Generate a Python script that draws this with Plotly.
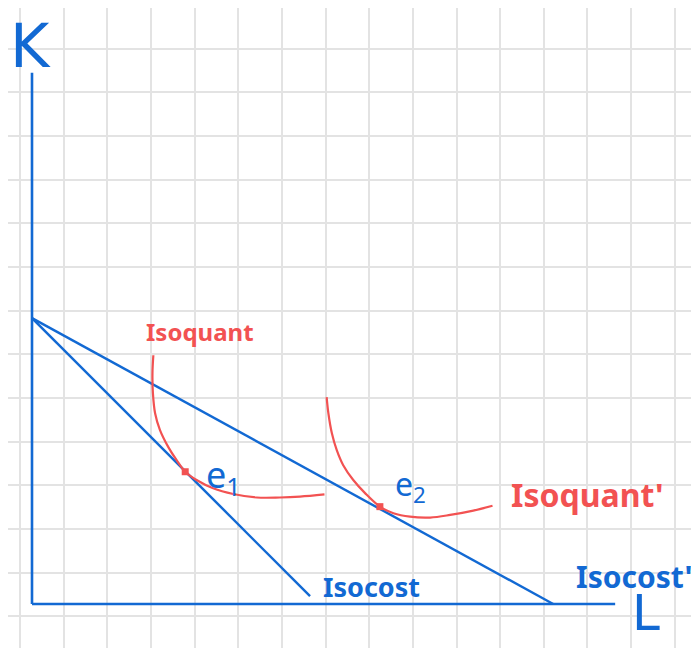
import plotly.graph_objects as go

# ---- data (grid units: 1 = one grid square, origin at the axes corner) ----
k_axis_x = [0, 0]
k_axis_y = [0, 12.17]
l_axis_x = [0, 13.36]
l_axis_y = [0, 0]

isocost_x = [0, 6.37]
isocost_y = [6.55, 0.18]
isocost2_x = [0, 11.94]
isocost2_y = [6.55, 0.0]

isoquant1_x = [2.78, 2.76, 2.77, 2.82, 2.93, 3.12, 3.31, 3.51, 3.77, 4.15, 4.61, 5.15, 5.68, 6.14, 6.70]
isoquant1_y = [5.70, 5.29, 4.83, 4.37, 3.99, 3.60, 3.30, 3.03, 2.84, 2.65, 2.52, 2.44, 2.44, 2.46, 2.51]

isoquant2_x = [6.75, 6.79, 6.87, 6.98, 7.13, 7.36, 7.63, 7.97, 8.28, 8.66, 9.12, 9.58, 10.11, 10.55]
isoquant2_y = [4.74, 4.37, 3.91, 3.53, 3.18, 2.84, 2.54, 2.23, 2.08, 2.00, 1.98, 2.04, 2.14, 2.25]

eq_x = [3.51, 7.97]
eq_y = [3.03, 2.23]

labels = ["K", "L", "Isoquant", "Isoquant'", "Isocost", "Isocost'", "e<sub>1</sub>", "e<sub>2</sub>"]
label_x = [-0.03, 14.07, 3.85, 12.72, 7.77, 13.78, 4.38, 8.68]
label_y = [12.78, -0.20, 6.25, 2.50, 0.41, 0.62, 2.92, 2.70]

BLUE = "#1269d3"
RED = "#f25252"

fig = go.Figure()

def line(x, y, color, width):
    fig.add_trace(go.Scatter(x=x, y=y, mode="lines",
                             line=dict(color=color, width=width),
                             hoverinfo="skip", showlegend=False))

line(k_axis_x, k_axis_y, BLUE, 2.6)
line(l_axis_x, l_axis_y, BLUE, 2.6)
line(isocost_x, isocost_y, BLUE, 2.4)
line(isocost2_x, isocost2_y, BLUE, 2.4)
fig.add_trace(go.Scatter(x=isoquant1_x, y=isoquant1_y, mode="lines",
                         line=dict(color=RED, width=2.2, shape="spline", smoothing=1.0),
                         hoverinfo="skip", showlegend=False))
fig.add_trace(go.Scatter(x=isoquant2_x, y=isoquant2_y, mode="lines",
                         line=dict(color=RED, width=2.2, shape="spline", smoothing=1.0),
                         hoverinfo="skip", showlegend=False))
fig.add_trace(go.Scatter(x=eq_x, y=eq_y, mode="markers",
                         marker=dict(color=RED, size=7, symbol="square"),
                         hoverinfo="skip", showlegend=False))

styles = [
    dict(color=BLUE, size=60, family="DejaVu Sans"),
    dict(color=BLUE, size=50, family="DejaVu Sans"),
    dict(color=RED, size=24, family="Noto Sans", weight="bold"),
    dict(color=RED, size=32, family="Noto Sans", weight="bold"),
    dict(color=BLUE, size=27, family="Noto Sans", weight="bold"),
    dict(color=BLUE, size=30, family="Noto Sans", weight="bold"),
    dict(color=BLUE, size=36, family="Noto Sans"),
    dict(color=BLUE, size=32, family="Noto Sans"),
]
for t, x, y, st in zip(labels, label_x, label_y, styles):
    fig.add_annotation(x=x, y=y, xref="x", yref="y", text=t, showarrow=False,
                       font=st, xanchor="center", yanchor="middle")

# the page body adds an 8px margin; the plot fills the rest of the 699x648 window
S = 43.65
fig.update_layout(
    width=691, height=640,
    margin=dict(l=0, r=0, t=0, b=0),
    paper_bgcolor="white", plot_bgcolor="white",
    xaxis=dict(range=[-24 / S, 667 / S], showgrid=True, gridcolor="#e3e3e3", gridwidth=1.5,
               tick0=-0.275, dtick=1, showticklabels=False, zeroline=False, showline=False,
               ticks="", fixedrange=True),
    yaxis=dict(range=[-44 / S, 596 / S], showgrid=True, gridcolor="#e3e3e3", gridwidth=1.5,
               tick0=0.72, dtick=1, showticklabels=False, zeroline=False, showline=False,
               ticks="", fixedrange=True),
)

fig.write_html("out.html")
